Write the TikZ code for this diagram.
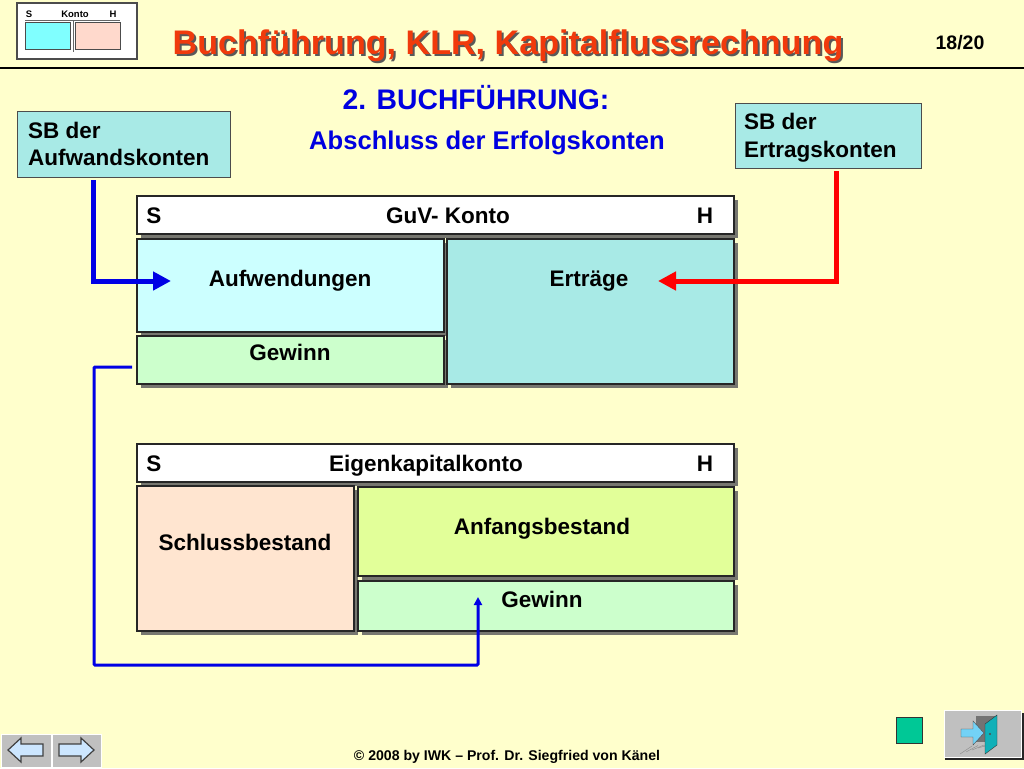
\documentclass[tikz,border=0pt]{standalone}
\usepackage{fontspec}
\setmainfont{Liberation Sans}
\usetikzlibrary{arrows.meta}
\definecolor{pagebg}{HTML}{FFFFCC}
\definecolor{titlered}{HTML}{F03A0C}
\definecolor{headblue}{HTML}{0000E0}
\definecolor{sbteal}{HTML}{A8EAE6}
\definecolor{lightcyan}{HTML}{CCFFFF}
\definecolor{gewinngreen}{HTML}{CCFFCC}
\definecolor{peach}{HTML}{FFE5D0}
\definecolor{logopeach}{HTML}{FFD9CC}
\definecolor{logocyan}{HTML}{80FFFF}
\definecolor{anfang}{HTML}{E2FF99}
\definecolor{shadowgray}{HTML}{777770}
\definecolor{btngray}{HTML}{C0C0C0}
\definecolor{btnblue}{HTML}{CCE6FF}
\definecolor{squareteal}{HTML}{00C896}
\definecolor{doorteal}{HTML}{10B0B8}
\tikzset{
  konto/.style={draw=black!85, line width=1.2pt, anchor=north west, inner sep=0pt, outer sep=0pt},
  txt/.style={font=\bfseries\fontsize{22.5}{27}\selectfont, inner sep=0pt, black, anchor=base},
  smalltxt/.style={font=\bfseries\fontsize{9.5}{10}\selectfont, inner sep=0pt},
  bluethick/.style={draw=blue!90!black, line width=5pt},
  redthick/.style={draw=red, line width=5pt},
  bluethin/.style={draw=blue!90!black, line width=3pt},
  btn/.style={fill=btngray, draw=white, line width=1pt},
  navarrow/.style={fill=btnblue, draw=black!75, line width=1.2pt},
}
\newcommand{\kontobox}[6]{%
\fill [shadowgray] (#2+4,#3+4) rectangle (#4+4,#5+4);
\node [konto, fill=#6, minimum width=#4pt-#2pt, minimum height=#5pt-#3pt] (#1) at (#2,#3) {};
}
\begin{document}
\begin{tikzpicture}[x=1pt,y=-1pt]
\fill [pagebg] (0,0) rectangle (1024,768);
\useasboundingbox (0,0) rectangle (1024,768);
% logo
\node [konto, draw=black!70, fill=white, minimum width=120pt, minimum height=56pt] (logo) at (17,3) {};
\node [konto, line width=1pt, draw=black!70, fill=logocyan, minimum width=45pt, minimum height=27pt] (logoS) at (25,23) {};
\node [konto, line width=1pt, draw=black!70, fill=logopeach, minimum width=45pt, minimum height=27pt] (logoH) at (75,23) {};
\draw [black!60] (25,20.5) -- (120,20.5);
\draw [black!60] (73,20.5) -- (73,52);
\node [smalltxt] (logoa) at (29,14) {S};
\node [smalltxt] (logob) at (75,14) {Konto};
\node [smalltxt] (logoc) at (113,14) {H};
% title
\node [font=\bfseries\fontsize{34.1}{38}\selectfont, inner sep=0pt, black!65] (titleshadow) at (510,48) {Buchführung, KLR, Kapitalflussrechnung};
\node [font=\bfseries\fontsize{34.1}{38}\selectfont, inner sep=0pt, titlered] (title) at (508,46) {Buchführung, KLR, Kapitalflussrechnung};
\node [font=\bfseries\fontsize{19.5}{22}\selectfont, inner sep=0pt] (page) at (960,43) {18/20};
\draw [black, line width=1.5pt] (0,68) -- (1024,68);
% heading
\node [font=\bfseries\fontsize{28.3}{32}\selectfont, inner sep=0pt, headblue] (head1) at (476,98) {2. BUCHFÜHRUNG:};
\node [font=\bfseries\fontsize{25.6}{30}\selectfont, inner sep=0pt, headblue] (head2) at (487,143) {Abschluss der Erfolgskonten};
% SB boxes
\node [konto, line width=1pt, draw=black!70, fill=sbteal, minimum width=213pt, minimum height=66pt] (sbauf) at (17,111) {};
\node [txt, anchor=base west] (sbauf1) at (28,138) {SB der};
\node [txt, anchor=base west] (sbauf2) at (28,165) {Aufwandskonten};
\node [konto, line width=1pt, draw=black!70, fill=sbteal, minimum width=186pt, minimum height=65pt] (sbert) at (735,103) {};
\node [txt, anchor=base west] (sbert1) at (744,129) {SB der};
\node [txt, anchor=base west] (sbert2) at (744,157) {Ertragskonten};
% GuV
\kontobox{guvhead}{137}{196}{734}{234}{white}
\node [txt] (guvS) at (154,223) {S};
\node [txt] (guvT) at (448,223) {GuV- Konto};
\node [txt] (guvH) at (705,223) {H};
\kontobox{aufw}{137}{239}{444}{332}{lightcyan}
\node [txt] (aufwtxt) at (290,286) {Aufwendungen};
\kontobox{gew}{137}{336}{444}{384}{gewinngreen}
\node [txt] (gewtxt) at (290,360) {Gewinn};
\kontobox{ertr}{447}{239}{734}{384}{sbteal}
\node [txt] (ertrtxt) at (589,286) {Erträge};
% Eigenkapital
\kontobox{ekhead}{137}{444}{734}{482}{white}
\node [txt] (ekS) at (154,471) {S};
\node [txt] (ekT) at (426,471) {Eigenkapitalkonto};
\node [txt] (ekH) at (705,471) {H};
\kontobox{schluss}{137}{486}{354}{631}{peach}
\node [txt] (schlusstxt) at (245,550) {Schlussbestand};
\kontobox{anf}{358}{487}{734}{576}{anfang}
\node [txt] (anftxt) at (542,534) {Anfangsbestand};
\kontobox{gew2}{358}{581}{734}{631}{gewinngreen}
\node [txt] (gew2txt) at (542,607) {Gewinn};
% connectors
\coordinate (blueend) at (171,281);
\coordinate (redend) at (658,281);
\coordinate (gewout) at (132,367);
\coordinate (gewin) at (478,597);
\draw [bluethick, -{Triangle[length=18pt,width=18pt]}] (sbauf.south -| 93,0) ++(0,3) |- (blueend);
\draw [redthick, -{Triangle[length=18pt,width=18pt]}] (sbert.south -| 836,0) ++(0,3) |- (redend);
\draw [bluethin, -{Triangle[length=8pt,width=8pt]}, rounded corners=1pt] (gewout) -- (94,367) -- (94,665) -| (gewin);
% buttons
\node [konto, line width=1pt, draw=black!80, fill=squareteal, minimum width=26pt, minimum height=26pt] (square) at (896,717) {};
\fill [black!85] (945,713) rectangle (1024,760);
\node [konto, btn, minimum width=77pt, minimum height=47pt] (exitbtn) at (944,710) {};
\foreach \i in {0,1,2,3,4}
  \draw [black!45] (960+\i*6,754-\i*2) -- (972+\i*6,746-\i*0.5);
\fill [black!55] (976,716) rectangle (996,742);
\draw [black!80, fill=doorteal] (985,724) -- (997,715) -- (997,745) -- (985,754) -- cycle;
\fill [black!70] (990,734) circle (1.2);
\draw [black!70, fill=cyan!55!white] (961,729) -- (973,729) -- (973,721) -- (984,733) -- (973,745) -- (973,737) -- (961,737) -- cycle;
\node [konto, btn, minimum width=50pt, minimum height=33pt] (prevbtn) at (1,734) {};
\node [konto, btn, minimum width=49pt, minimum height=33pt] (nextbtn) at (52,734) {};
\draw [navarrow] (8,750) -- (21,738) -- (21,744) -- (43,744) -- (43,756) -- (21,756) -- (21,762) -- cycle;
\draw [navarrow] (94,750) -- (81,738) -- (81,744) -- (59,744) -- (59,756) -- (81,756) -- (81,762) -- cycle;
% footer
\node [font=\bfseries\fontsize{14.1}{16}\selectfont, inner sep=0pt] (footer) at (507,757) {© 2008 by IWK – Prof. Dr. Siegfried von Känel};
\end{tikzpicture}
\end{document}
